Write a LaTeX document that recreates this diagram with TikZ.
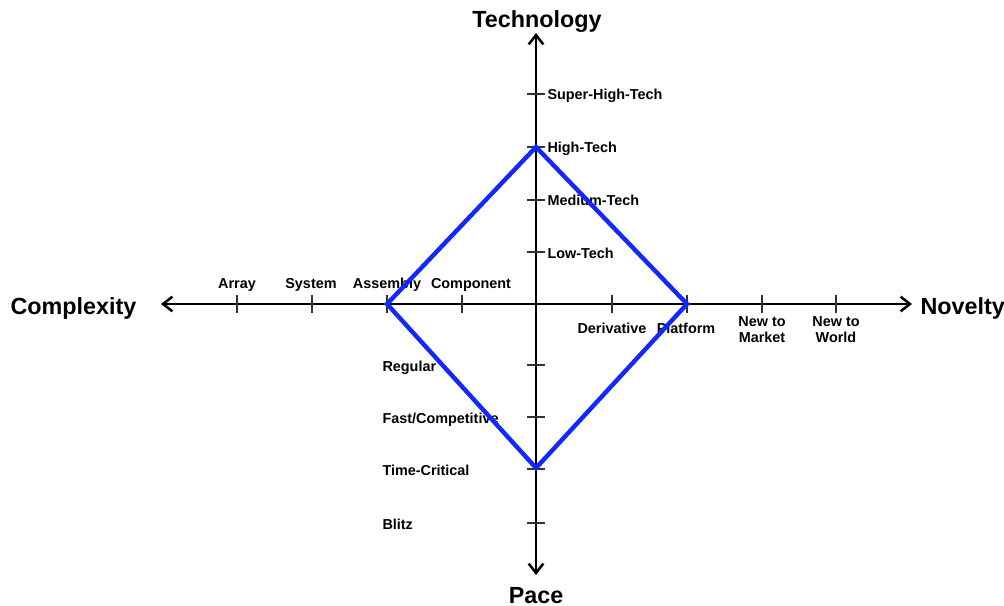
\documentclass[tikz,border=0pt]{standalone}
\usepackage{fontspec}
\setmainfont{Liberation Sans}
\usetikzlibrary{arrows.meta}
\definecolor{route}{RGB}{18, 40, 255}
\newcommand{\ticklbl}{\fontsize{10.8}{12}\selectfont\bfseries}
\newcommand{\axlbl}{\fontsize{17.5}{20}\selectfont\bfseries}
\tikzset{
  axis/.style={line width=1.9pt, {Straight Barb[length=7pt, width=11pt]}-{Straight Barb[length=7pt, width=11pt]}},
  txt/.style={inner sep=0pt},
}

\begin{document}
\begin{tikzpicture}[x=0.75pt, y=-0.75pt, thick]
  \useasboundingbox (0, 0) rectangle (1004, 606);

  % the two axes
  \coordinate (west) at (161, 304);
  \coordinate (east) at (912, 304);
  \coordinate (north) at (536, 33);
  \coordinate (south) at (536, 575);
  \draw[axis] (west) -- (east);
  \draw[axis] (north) -- (south);

  \foreach \x in {237, 312, 387, 462, 612, 687, 762, 836}
    \draw[line width=0.8pt, black!80] (\x, 295) -- (\x, 313);
  \foreach \y in {94, 147, 200, 252, 365, 417, 469, 523}
    \draw[line width=0.8pt, black!80] (527, \y) -- (545, \y);

  % axis names
  \node[txt, anchor=base, font=\axlbl] (tech) at (537, 28) {Technology};
  \node[txt, anchor=base, font=\axlbl] (pace) at (536, 603) {Pace};
  \node[txt, anchor=base west, font=\axlbl] (cplx) at (10, 315) {Complexity};
  \node[txt, anchor=base west, font=\axlbl] (nov) at (920, 315) {Novelty};

  % complexity
  \node[txt, anchor=base, font=\ticklbl] (arr) at (237, 288) {Array};
  \node[txt, anchor=base, font=\ticklbl] (sys) at (311, 288) {System};
  \node[txt, anchor=base, font=\ticklbl] (asm) at (387, 288) {Assembly};
  \node[txt, anchor=base, font=\ticklbl] (comp) at (471, 288) {Component};

  % novelty
  \node[txt, anchor=base, font=\ticklbl] (deriv) at (612, 334) {Derivative};
  \node[txt, anchor=base, font=\ticklbl] (plat) at (686, 334) {Platform};
  \node[txt, anchor=north, align=center, font=\ticklbl] (newmkt) at (762, 316) {New to\\Market};
  \node[txt, anchor=north, align=center, font=\ticklbl] (newwld) at (836, 316) {New to\\World};

  % technology
  \node[txt, anchor=base west, font=\ticklbl] (shtech) at (547, 100) {Super-High-Tech};
  \node[txt, anchor=base west, font=\ticklbl] (htech) at (547, 153) {High-Tech};
  \node[txt, anchor=base west, font=\ticklbl] (mtech) at (547, 206) {Medium-Tech};
  \node[txt, anchor=base west, font=\ticklbl] (ltech) at (547, 258) {Low-Tech};

  % pace
  \node[txt, anchor=base west, font=\ticklbl] (reg) at (382, 371) {Regular};
  \node[txt, anchor=base west, font=\ticklbl] (fast) at (382, 423) {Fast/Competitive};
  \node[txt, anchor=base west, font=\ticklbl] (tcrit) at (382, 475) {Time-Critical};
  \node[txt, anchor=base west, font=\ticklbl] (blitz) at (382, 529) {Blitz};

  % project profile
  \coordinate (hi) at (536, 147);
  \coordinate (pf) at (687, 304);
  \coordinate (tc) at (536, 468);
  \coordinate (as) at (387, 304);
  \draw[route, line width=3.3pt] (hi) -- (pf) -- (tc) -- (as) -- cycle;

\end{tikzpicture}
\end{document}
